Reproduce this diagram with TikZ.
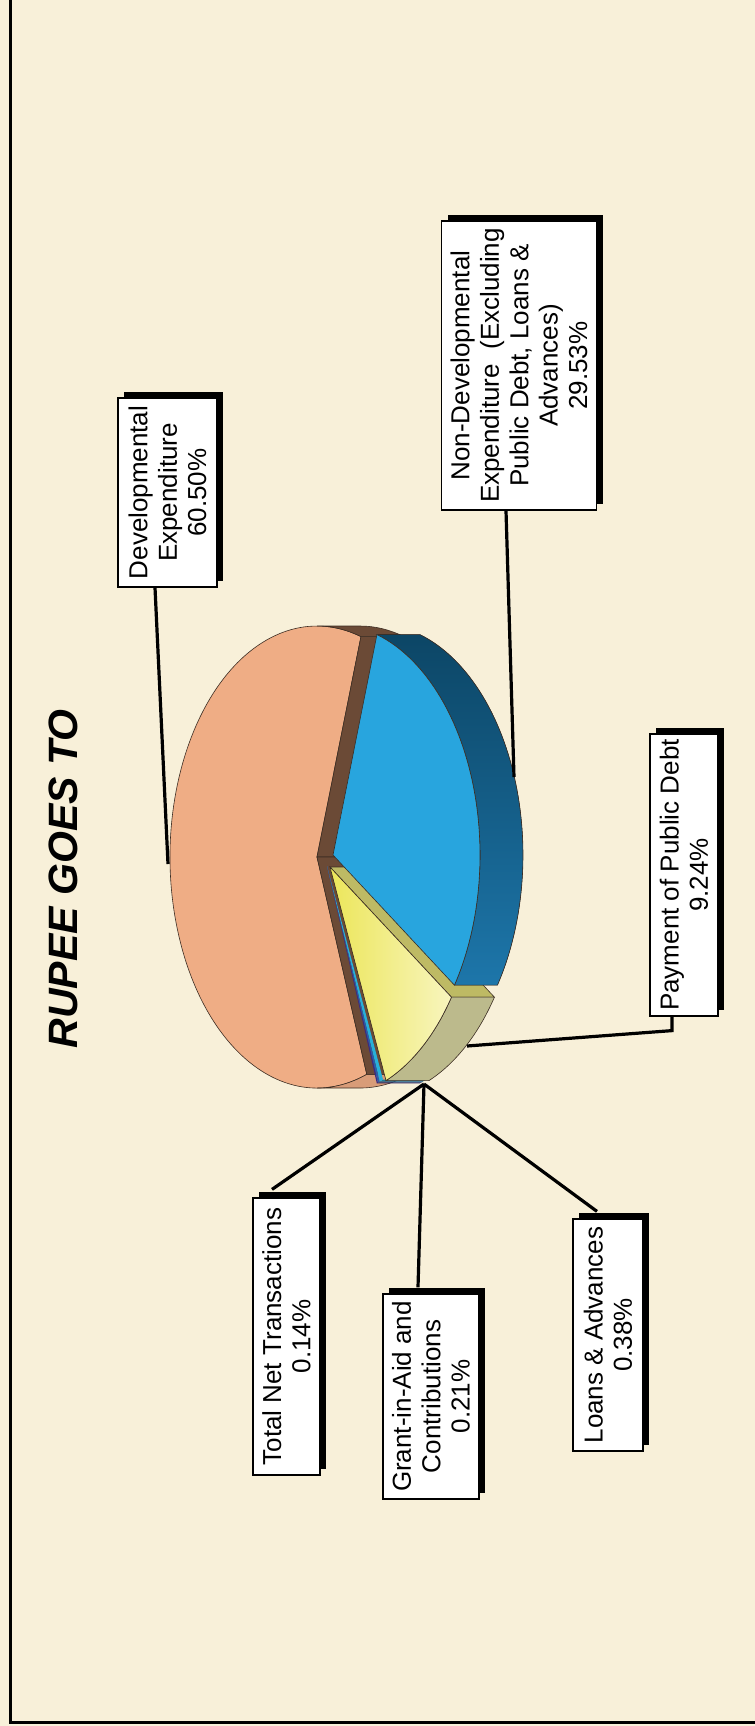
\documentclass[tikz,border=0pt]{standalone}
\usepackage{fontspec}
\setmainfont{Liberation Sans}
\usetikzlibrary{calc,shadows}
\definecolor{paper}{RGB}{248,240,217}
\definecolor{devtop}{RGB}{239,173,133}
\definecolor{devcut}{RGB}{107,74,54}
\definecolor{devside}{RGB}{216,156,120}
\definecolor{ndtop}{RGB}{40,165,222}
\definecolor{ndsidetop}{RGB}{12,70,102}
\definecolor{ndsidebot}{RGB}{29,118,170}
\definecolor{pdeep}{RGB}{236,230,90}
\definecolor{ppale}{RGB}{248,245,190}
\definecolor{pside}{RGB}{188,186,140}
\definecolor{pcut}{RGB}{190,186,100}
\definecolor{lacol}{RGB}{40,176,216}
\definecolor{gacol}{RGB}{42,92,168}
\definecolor{tncol}{RGB}{60,42,128}
\definecolor{edge}{RGB}{60,45,35}

\begin{document}
\begin{tikzpicture}[x=0.5pt, y=-0.5pt,
    rim/.style={x radius=147, y radius=231},
    face/.style={draw=edge, line width=0.3pt},
    tag/.style={draw, fill=white, line width=0.6pt, rotate=90, align=center,
        inner sep=1pt, font=\fontsize{13}{14.7}\selectfont,
        drop shadow={shadow xshift=3pt, shadow yshift=3pt, opacity=1, fill=black}},
    leader/.style={line width=1.6pt}]
    \useasboundingbox (0,0) rectangle (755,1726);
    \fill[paper] (0,0) rectangle (755,1726);
    \draw[line width=1.75pt] (10.5,0) -- (10.5,1722.5) -- (755,1722.5);

    \node[rotate=90, font=\fontsize{20.5}{24}\selectfont\bfseries\itshape] (title) at (63,879) {RUPEE GOES TO};

    \coordinate (cdev) at (317,857);
    \coordinate (cnd) at (333,855);
    \coordinate (cpay) at (330,867);
    \coordinate (csm) at (327,866);

    \filldraw[face, fill=devtop] (cdev) -- ++(70.2:147 and 231) arc[start angle=70.2, end angle=287.4, rim] -- cycle;
    \filldraw[face, fill=devside] (cdev) ++(70.2:147 and 231) arc[start angle=70.2, end angle=90, rim] -- ++(43,0) arc[start angle=90, end angle=70.2, rim] -- cycle;
    \filldraw[face, fill=devcut] (cdev) ++(270:147 and 231) arc[start angle=270, end angle=287.4, rim] -- ++(43,0) arc[start angle=287.4, end angle=270, rim] -- cycle;
    \filldraw[face, fill=devcut] (cdev) -- ++(287.4:147 and 231) -- ++(43,0) -- ([xshift=21.5pt]cdev) -- cycle;
    \filldraw[face, fill=devcut] (cdev) -- ++(70.2:147 and 231) -- ++(43,0) -- ([xshift=21.5pt]cdev) -- cycle;
    \filldraw[face, fill=pcut] (cpay) -- ++(34.3:147 and 231) -- ++(43,0) -- ([xshift=21.5pt]cpay) -- cycle;

    \filldraw[face, top color=ndsidetop, bottom color=ndsidebot] (cnd) ++(-72.6:147 and 231) arc[start angle=-72.6, end angle=34.3, rim] -- ++(43,0) arc[start angle=34.3, end angle=-72.6, rim] -- cycle;
    \filldraw[face, fill=ndtop] (cnd) -- ++(-72.6:147 and 231) arc[start angle=-72.6, end angle=34.3, rim] -- cycle;

    \foreach \from/\to/\col in {67.6/68.97/lacol, 68.97/69.73/gacol, 69.73/70.2/tncol} {
        \fill[\col!70!black] (csm) ++(\from:147 and 231) arc[start angle=\from, end angle=\to, rim] -- ++(43,0) arc[start angle=\to, end angle=\from, rim] -- cycle;
        \fill[\col] (csm) -- ++(\from:147 and 231) arc[start angle=\from, end angle=\to, rim] -- cycle;
    }

    \filldraw[face, fill=pside] (cpay) ++(34.3:147 and 231) arc[start angle=34.3, end angle=67.6, rim] -- ++(43,0) arc[start angle=67.6, end angle=34.3, rim] -- cycle;
    \filldraw[face, left color=pdeep, right color=ppale] (cpay) -- ++(34.3:147 and 231) arc[start angle=34.3, end angle=67.6, rim] -- cycle;

    \node[tag, minimum width=94.5pt, minimum height=49.5pt] (dev) at (167.5,492.5) {Developmental\\Expenditure\\60.50\%};
    \node[tag, minimum width=144.5pt, minimum height=77.5pt] (nd) at (519,365.5) {Non-Developmental\\Expenditure\ \ (Excluding\\Public Debt, Loans \&\\Advances)\\29.53\%};
    \node[tag, minimum width=141pt, minimum height=34pt] (pay) at (684,875) {Payment of Public Debt\\9.24\%};
    \node[tag, minimum width=138.5pt, minimum height=33.5pt] (tnt) at (286.5,1336.5) {Total Net Transactions\\0.14\%};
    \node[tag, minimum width=102.5pt, minimum height=48pt] (gia) at (431,1396.5) {Grant-in-Aid and\\Contributions\\0.21\%};
    \node[tag, minimum width=116pt, minimum height=35pt] (loan) at (608,1335) {Loans \& Advances\\0.38\%};

    \coordinate (devpt) at (168,864);
    \coordinate (ndpt) at (514,777);
    \coordinate (paypt) at (467,1046);
    \coordinate (smpt) at (424,1084);

    \draw[leader] ([xshift=-6.25pt]dev.west) -- (devpt);
    \draw[leader] ([xshift=-6.5pt]nd.west) -- (ndpt);
    \draw[leader] ([xshift=-6pt]pay.west) -- ++(0,14) -- (paypt);
    \draw[leader] (smpt) -- ([xshift=-7.25pt, yshift=4pt]tnt.east);
    \draw[leader] (smpt) -- ([xshift=-6.5pt, yshift=3pt]gia.east);
    \draw[leader] (smpt) -- ([xshift=-5.5pt, yshift=3.5pt]loan.east);
\end{tikzpicture}
\end{document}
